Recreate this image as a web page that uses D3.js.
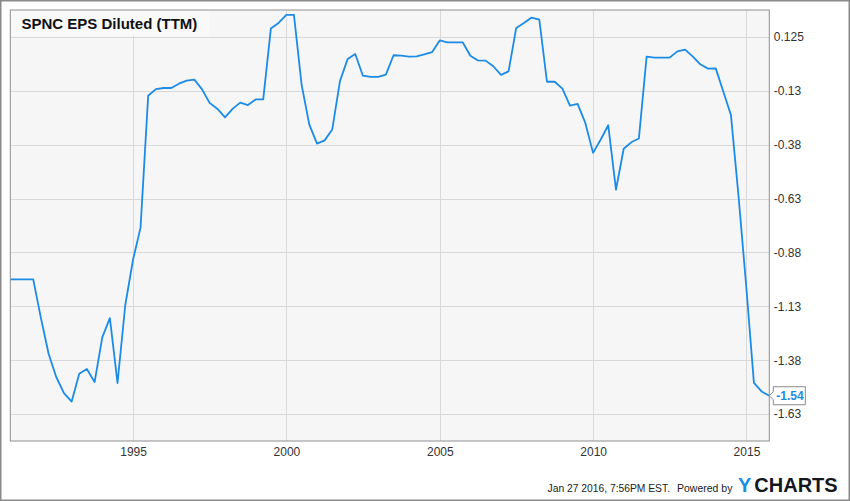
<!DOCTYPE html>
<html>
<head>
<meta charset="utf-8">
<script src="https://cdn.jsdelivr.net/npm/d3@7"></script>
<style>
  html, body { margin: 0; padding: 0; background: #fff; }
  svg { display: block; }
  text { font-family: Arial, "Liberation Sans", sans-serif; }
</style>
</head>
<body>
<svg id="chart" width="850" height="501"></svg>
<script>
// ---- data ----
const title = "SPNC EPS Diluted (TTM)";
const quarterEnds = [
  "1990-12-31",
  "1991-03-31","1991-06-30","1991-09-30","1991-12-31",
  "1992-03-31","1992-06-30","1992-09-30","1992-12-31",
  "1993-03-31","1993-06-30","1993-09-30","1993-12-31",
  "1994-03-31","1994-06-30","1994-09-30","1994-12-31",
  "1995-03-31","1995-06-30","1995-09-30","1995-12-31",
  "1996-03-31","1996-06-30","1996-09-30","1996-12-31",
  "1997-03-31","1997-06-30","1997-09-30","1997-12-31",
  "1998-03-31","1998-06-30","1998-09-30","1998-12-31",
  "1999-03-31","1999-06-30","1999-09-30","1999-12-31",
  "2000-03-31","2000-06-30","2000-09-30","2000-12-31",
  "2001-03-31","2001-06-30","2001-09-30","2001-12-31",
  "2002-03-31","2002-06-30","2002-09-30","2002-12-31",
  "2003-03-31","2003-06-30","2003-09-30","2003-12-31",
  "2004-03-31","2004-06-30","2004-09-30","2004-12-31",
  "2005-03-31","2005-06-30","2005-09-30","2005-12-31",
  "2006-03-31","2006-06-30","2006-09-30","2006-12-31",
  "2007-03-31","2007-06-30","2007-09-30","2007-12-31",
  "2008-03-31","2008-06-30","2008-09-30","2008-12-31",
  "2009-03-31","2009-06-30","2009-09-30","2009-12-31",
  "2010-03-31","2010-06-30","2010-09-30","2010-12-31",
  "2011-03-31","2011-06-30","2011-09-30","2011-12-31",
  "2012-03-31","2012-06-30","2012-09-30","2012-12-31",
  "2013-03-31","2013-06-30","2013-09-30","2013-12-31",
  "2014-03-31","2014-06-30","2014-09-30","2014-12-31",
  "2015-03-31","2015-06-30","2015-09-30"
];
const epsDiluted = [
  -1.00,
  -1.00, -1.00, -1.00, -1.18,
  -1.345, -1.453, -1.528, -1.567,
  -1.438, -1.416, -1.477, -1.268,
  -1.18, -1.481, -1.12, -0.91,
  -0.76, -0.148, -0.117, -0.112,
  -0.112, -0.092, -0.078, -0.073,
  -0.117, -0.181, -0.208, -0.248,
  -0.209, -0.18, -0.191, -0.165,
  -0.165, 0.164, 0.19, 0.227,
  0.227, -0.096, -0.282, -0.37,
  -0.355, -0.305, -0.08, 0.023,
  0.046, -0.055, -0.06, -0.06,
  -0.05, 0.04, 0.038, 0.034,
  0.035, 0.044, 0.054, 0.109,
  0.10, 0.10, 0.10, 0.038,
  0.016, 0.015, -0.011, -0.051,
  -0.035, 0.167, 0.19, 0.215,
  0.205, -0.083, -0.083, -0.115,
  -0.194, -0.186, -0.274, -0.413,
  -0.352, -0.285, -0.584, -0.394,
  -0.364, -0.346, 0.034, 0.029,
  0.029, 0.029, 0.058, 0.066,
  0.035, -0.002, -0.022, -0.021,
  -0.128, -0.237, -0.62, -1.04,
  -1.48, -1.52, -1.54
];
const yTickValues = [0.125, -0.125, -0.375, -0.625, -0.875, -1.125, -1.375, -1.625];
const yTickLabels = ["0.125", "-0.13", "-0.38", "-0.63", "-0.88", "-1.13", "-1.38", "-1.63"];
const xTickYears = [1995, 2000, 2005, 2010, 2015];
const lastLabel = "-1.54";
const footerText = "Jan 27 2016, 7:56PM EST.";
const poweredText = "Powered by";

// ---- layout ----
const W = 850, H = 501;
const plot = { left: 10.3, right: 769.3, top: 10, bottom: 441 };
const lineColor = "#1c8be6";

const parse = d3.timeParse("%Y-%m-%d");
const data = quarterEnds.map((d, i) => ({ date: parse(d), value: epsDiluted[i] }));

const x = d3.scaleTime()
  .domain(d3.extent(data, d => d.date))
  .range([plot.left, plot.right]);
const y = d3.scaleLinear()
  .domain([-1.75, 0.25])
  .range([plot.bottom, plot.top]);

const svg = d3.select("#chart");

// outer border
svg.append("rect")
  .attr("x", 0.75).attr("y", 0.75)
  .attr("width", W - 1.5).attr("height", H - 1.5)
  .attr("fill", "#fff").attr("stroke", "#8a8a8a").attr("stroke-width", 1.5);

// plot background
svg.append("rect")
  .attr("x", plot.left).attr("y", plot.top)
  .attr("width", plot.right - plot.left).attr("height", plot.bottom - plot.top)
  .attr("fill", "#f6f6f6");

// grid
const xTickDates = xTickYears.map(yr => new Date(yr, 0, 1));
svg.append("g").selectAll("line.h")
  .data(yTickValues).join("line")
  .attr("x1", plot.left).attr("x2", plot.right)
  .attr("y1", d => Math.round(y(d)) + 0.5).attr("y2", d => Math.round(y(d)) + 0.5)
  .attr("stroke", "#d9d9d9").attr("stroke-width", 1);
svg.append("g").selectAll("line.v")
  .data(xTickDates).join("line")
  .attr("x1", d => Math.round(x(d)) + 0.5).attr("x2", d => Math.round(x(d)) + 0.5)
  .attr("y1", plot.top).attr("y2", plot.bottom)
  .attr("stroke", "#d9d9d9").attr("stroke-width", 1);

// title box + title
svg.append("rect")
  .attr("x", plot.left).attr("y", plot.top)
  .attr("width", 199).attr("height", 26)
  .attr("fill", "#f9f9f9");
svg.append("text")
  .attr("x", 21.5).attr("y", 29.3)
  .attr("font-size", 15).attr("font-weight", "bold").attr("fill", "#111")
  .text(title);

// line
const line = d3.line().x(d => x(d.date)).y(d => y(d.value));
svg.append("path")
  .datum(data)
  .attr("d", line)
  .attr("fill", "none")
  .attr("stroke", lineColor)
  .attr("stroke-width", 1.8)
  .attr("stroke-linejoin", "round");

// plot border
svg.append("rect")
  .attr("x", plot.left).attr("y", plot.top)
  .attr("width", plot.right - plot.left).attr("height", plot.bottom - plot.top)
  .attr("fill", "none").attr("stroke", "#8f8f8f").attr("stroke-width", 1);

// y axis (right)
const yAxis = d3.axisRight(y)
  .tickValues(yTickValues)
  .tickSize(0)
  .tickPadding(4.5)
  .tickFormat((d, i) => yTickLabels[i]);
const gy = svg.append("g")
  .attr("transform", `translate(${plot.right},0)`)
  .call(yAxis);
gy.select(".domain").remove();
gy.selectAll("text").attr("font-size", 12).attr("fill", "#333")
  .attr("font-family", "Arial, 'Liberation Sans', sans-serif");

// x axis
const xAxis = d3.axisBottom(x)
  .tickValues(xTickDates)
  .tickSize(0)
  .tickPadding(6)
  .tickFormat(d3.timeFormat("%Y"));
const gx = svg.append("g")
  .attr("transform", `translate(0,${plot.bottom})`)
  .call(xAxis);
gx.select(".domain").remove();
gx.selectAll("text").attr("font-size", 12).attr("fill", "#333")
  .attr("font-family", "Arial, 'Liberation Sans', sans-serif");

// last value label
const last = data[data.length - 1];
const lx = x(last.date), ly = y(last.value);
const bx = lx + 4, bw = 32, bh = 18;
svg.append("path")
  .attr("d", `M${lx},${ly} L${bx},${ly - 4} L${bx},${ly - bh / 2} L${bx + bw},${ly - bh / 2} L${bx + bw},${ly + bh / 2} L${bx},${ly + bh / 2} L${bx},${ly + 4} Z`)
  .attr("fill", "#fff").attr("stroke", "#8a8a8a").attr("stroke-width", 1);
svg.append("text")
  .attr("x", bx + 3).attr("y", ly + 4.5)
  .attr("font-size", 12).attr("font-weight", "bold").attr("fill", lineColor)
  .text(lastLabel);

// footer
svg.append("text")
  .attr("x", 670).attr("y", 492).attr("text-anchor", "end")
  .attr("font-size", 10.3).attr("fill", "#222")
  .text(footerText);
svg.append("text")
  .attr("x", 677).attr("y", 492)
  .attr("font-size", 10.5).attr("fill", "#222")
  .text(poweredText);
svg.append("text")
  .attr("x", 738).attr("y", 491.7)
  .attr("font-size", 20).attr("font-weight", "bold").attr("fill", "#1a8fe3")
  .text("Y");
svg.append("text")
  .attr("x", 754.3).attr("y", 491.7)
  .attr("font-size", 20).attr("font-weight", "bold").attr("fill", "#15171f")
  .text("CHARTS");
</script>
</body>
</html>
